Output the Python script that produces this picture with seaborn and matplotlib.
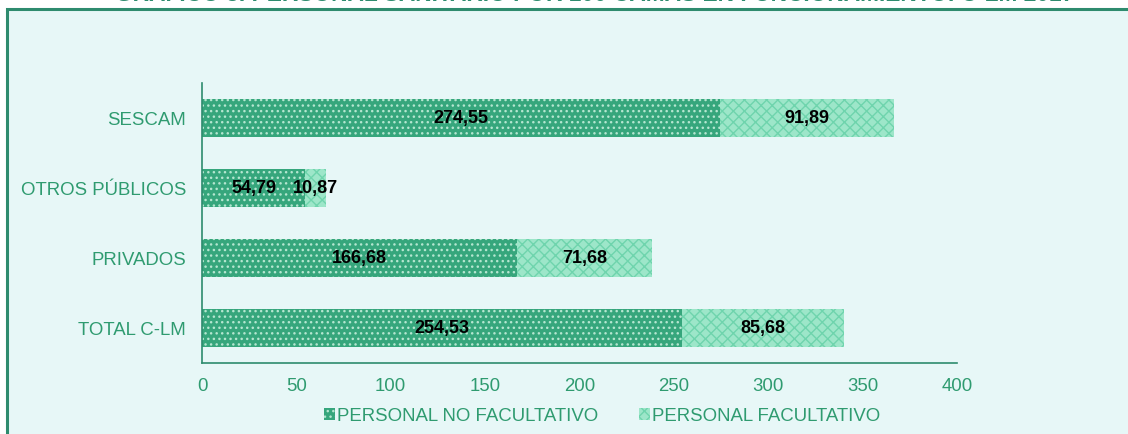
import numpy as np
import pandas as pd
import seaborn as sns
import matplotlib.pyplot as plt
from matplotlib.patches import Patch, Rectangle

categorias = ['SESCAM', 'OTROS PÚBLICOS', 'PRIVADOS', 'TOTAL C-LM']
no_facultativo = [274.55, 54.79, 166.68, 254.53]
facultativo = [91.89, 10.87, 71.68, 85.68]
series = ['PERSONAL NO FACULTATIVO', 'PERSONAL FACULTATIVO']
xticks = [0, 50, 100, 150, 200, 250, 300, 350, 400]

verde = '#2F9B70'
borde = '#2E8B6E'
oscuro = '#36A67C'
claro = '#9DE6C9'

sns.set_style('white')
plt.rcParams['font.family'] = ['Liberation Sans', 'DejaVu Sans']
plt.rcParams['hatch.linewidth'] = 1.0

df = pd.DataFrame({'cat': categorias, 'nf': no_facultativo, 'f': facultativo})
df['total'] = df['nf'] + df['f']

fig = plt.figure(figsize=(11.28, 4.35), dpi=100)
fig.patch.set_facecolor('white')
fig.patches.append(Rectangle((7 / 1128, -0.05), 1.1, 1 - 10 / 435 + 0.05,
                             transform=fig.transFigure, facecolor='#E7F7F7',
                             edgecolor=borde, linewidth=2.2, zorder=-10))
fig.text(0.527, 1.013, 'GRÁFICO 3. PERSONAL SANITARIO POR 100 CAMAS EN FUNCIONAMIENTO. C-LM 2017',
         ha='center', va='center', fontsize=16.4, fontweight='bold', color=borde)

ax = fig.add_axes([202 / 1128, 1 - 364 / 435, (957 - 202) / 1128, (364 - 84) / 435])
ax.set_facecolor('none')
ax.set_zorder(5)

# apilado: total (claro) detras, no facultativo (oscuro) delante
sns.barplot(data=df, y='cat', x='total', orient='h', color=claro, width=0.54,
            saturation=1, ax=ax, edgecolor='#6FD4AD', linewidth=0, hatch='xxx')
sns.barplot(data=df, y='cat', x='nf', orient='h', color=oscuro, width=0.54,
            saturation=1, ax=ax, edgecolor='#B5E6D0', linewidth=0, hatch='...')

for i in range(len(categorias)):
    ax.text(no_facultativo[i] / 2, i, f'{no_facultativo[i]:.2f}'.replace('.', ','),
            ha='center', va='center', fontsize=13, fontweight='bold', color='black')
    ax.text(no_facultativo[i] + facultativo[i] / 2, i, f'{facultativo[i]:.2f}'.replace('.', ','),
            ha='center', va='center', fontsize=13, fontweight='bold', color='black')

ax.set_xlim(0, 400)
ax.set_ylim(3.5, -0.5)
ax.set_xticks(xticks)
ax.set_xlabel('')
ax.set_ylabel('')
ax.set_yticks(range(len(categorias)))
ax.set_yticks(np.arange(-0.5, 4, 1), minor=True)
ax.tick_params(axis='y', which='major', length=0, pad=11.5, labelsize=13.4, labelcolor=verde)
ax.tick_params(axis='y', which='minor', length=5, color=borde, width=1, direction='out')
ax.tick_params(axis='x', which='major', length=5, color=borde, width=1, direction='out',
               labelsize=13.4, labelcolor=verde, pad=5)
for s in ['top', 'right']:
    ax.spines[s].set_visible(False)
for s in ['left', 'bottom']:
    ax.spines[s].set_color(borde)
    ax.spines[s].set_linewidth(1.2)

handles = [Patch(facecolor=oscuro, edgecolor='#B5E6D0', hatch='...', linewidth=0, label=series[0]),
           Patch(facecolor=claro, edgecolor='#6FD4AD', hatch='xxx', linewidth=0, label=series[1])]
leg = fig.legend(handles=handles, loc='center', bbox_to_anchor=(0.534, 1 - 417 / 435), ncol=2,
                 frameon=False, fontsize=13.4, handlelength=0.6, handleheight=0.6,
                 handletextpad=0.1, columnspacing=2.2)
for t in leg.get_texts():
    t.set_color(verde)

fig.savefig('out.png', dpi=100)
